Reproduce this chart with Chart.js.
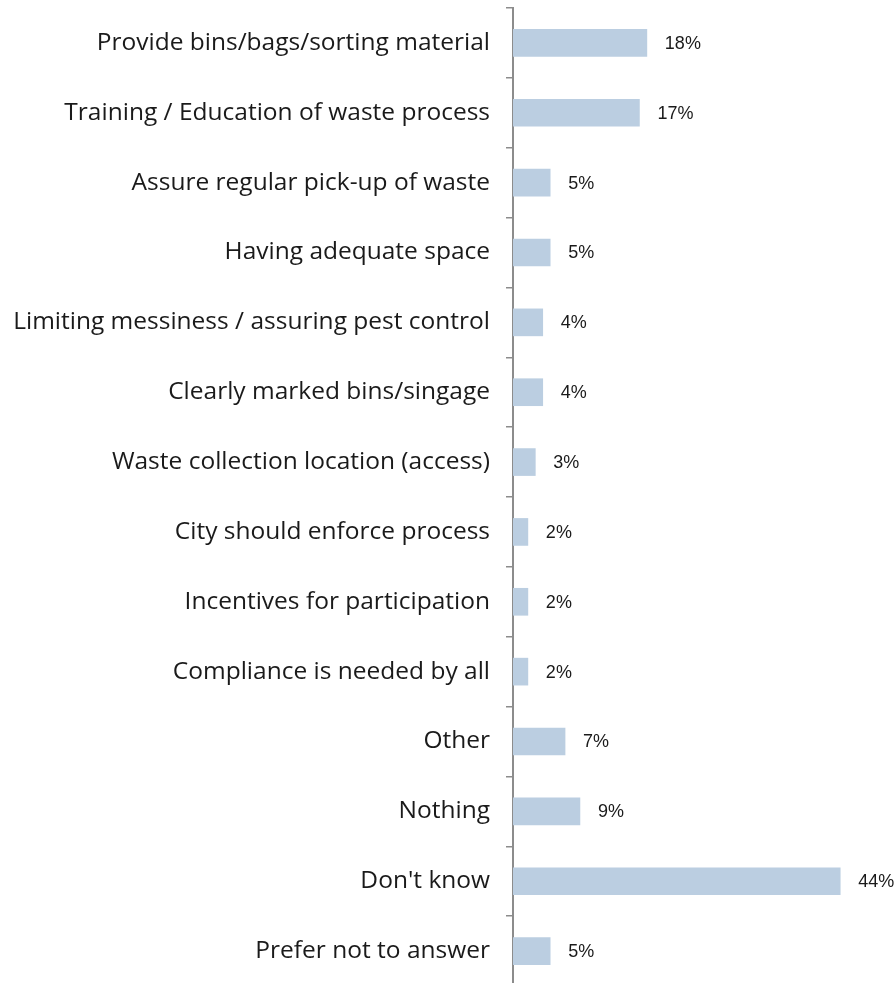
<!DOCTYPE html>
<html lang="en">
<head>
    <meta charset="UTF-8">
    <title>Waste sorting – what would help</title>
    <script src="https://cdn.jsdelivr.net/npm/chart.js@4.4.0/dist/chart.umd.min.js"></script>
    <style>
        html, body { margin: 0; padding: 0; background: #fff; overflow: hidden; }
        #wrap { width: 896px; height: 986px; }
    </style>
</head>
<body>
    <div id="wrap">
        <canvas id="chart" width="896" height="986"></canvas>
    </div>

    <script>
        const categories = [
            'Provide bins/bags/sorting material',
            'Training / Education of waste process',
            'Assure regular pick-up of waste',
            'Having adequate space',
            'Limiting messiness / assuring pest control',
            'Clearly marked bins/singage',
            'Waste collection location (access)',
            'City should enforce process',
            'Incentives for participation',
            'Compliance is needed by all',
            'Other',
            'Nothing',
            "Don't know",
            'Prefer not to answer'
        ];
        const shares = [18, 17, 5, 5, 4, 4, 3, 2, 2, 2, 7, 9, 44, 5];

        const LABEL_FONT = "'Open Sans', 'Liberation Sans', Arial, sans-serif";
        const VALUE_FONT = "'Liberation Sans', Arial, sans-serif";

        // value labels to the right of each bar
        const barLabels = {
            id: 'barLabels',
            afterDatasetsDraw(chart) {
                const ctx = chart.ctx;
                const meta = chart.getDatasetMeta(0);
                ctx.save();
                ctx.font = '18px ' + VALUE_FONT;
                ctx.fillStyle = '#1a1a1a';
                ctx.textAlign = 'left';
                ctx.textBaseline = 'middle';
                meta.data.forEach((bar, i) => {
                    ctx.fillText(shares[i] + '%', bar.x + 18, bar.y + 1);
                });
                ctx.restore();
            }
        };

        new Chart(document.getElementById('chart'), {
            type: 'bar',
            data: {
                labels: categories,
                datasets: [{
                    data: shares,
                    backgroundColor: '#bbcee1',
                    borderWidth: 0,
                    barThickness: 27
                }]
            },
            options: {
                indexAxis: 'y',
                responsive: false,
                animation: false,
                layout: { padding: { top: 8, right: 0, bottom: 0, left: 0 } },
                plugins: {
                    legend: { display: false },
                    tooltip: { enabled: false }
                },
                scales: {
                    x: {
                        display: false,
                        min: 0,
                        max: 51.5
                    },
                    y: {
                        afterFit: (s) => {
                            s.width = 513;
                            s.paddingTop = 0;
                            s.paddingBottom = 0;
                        },
                        border: { display: true, color: '#8c8c8c', width: 2 },
                        grid: {
                            offset: true,
                            drawOnChartArea: false,
                            drawTicks: true,
                            tickLength: 7,
                            color: '#8c8c8c',
                            lineWidth: 1.5
                        },
                        ticks: {
                            padding: 16,
                            color: '#1a1a1a',
                            font: { family: LABEL_FONT, size: 24.5 }
                        }
                    }
                }
            },
            plugins: [barLabels]
        });
    </script>
</body>
</html>
